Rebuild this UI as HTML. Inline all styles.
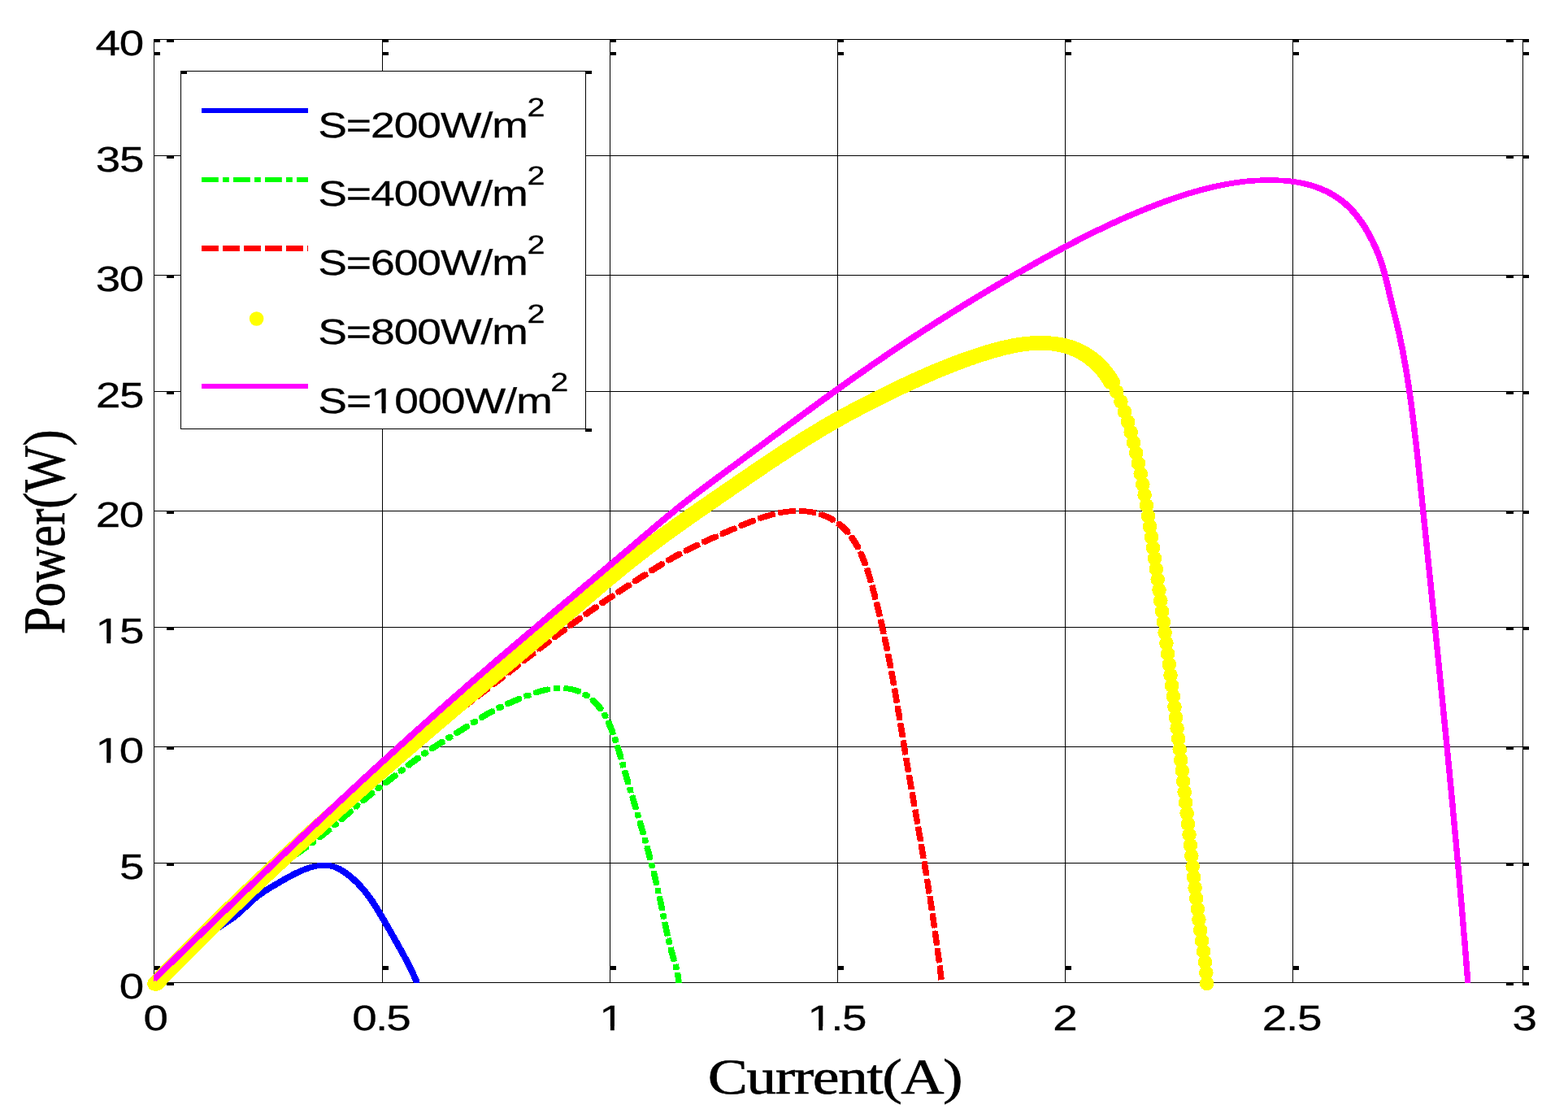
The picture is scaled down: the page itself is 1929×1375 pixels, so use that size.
<!DOCTYPE html>
<html lang="en"><head><meta charset="utf-8"><title>Power-Current curves</title>
<style>html,body{margin:0;padding:0;background:#fff;overflow:hidden}svg{display:block}text{font-kerning:none}.s{font-family:"Liberation Sans",sans-serif;fill:#000;stroke:#000;stroke-width:.3px}.t{font-family:"Liberation Serif",serif;fill:#000;stroke:#000;stroke-width:.6px}.k{fill:#000;shape-rendering:crispEdges}.c{fill:none;stroke-linejoin:round;shape-rendering:crispEdges}</style></head><body>
<svg width="1929" height="1375" viewBox="0 0 1929 1375" text-rendering="geometricPrecision">
<rect width="1929" height="1375" fill="#fff"/>
<g class="k"><rect x="470" y="48" width="1" height="1160"/><rect x="750" y="48" width="1" height="1160"/><rect x="1030" y="48" width="1" height="1160"/><rect x="1310" y="48" width="1" height="1160"/><rect x="1590" y="48" width="1" height="1160"/><rect x="189" y="191" width="1684" height="1"/><rect x="189" y="338" width="1684" height="1"/><rect x="189" y="481" width="1684" height="1"/><rect x="189" y="628" width="1684" height="1"/><rect x="189" y="771" width="1684" height="1"/><rect x="189" y="918" width="1684" height="1"/><rect x="189" y="1061" width="1684" height="1"/><rect x="189" y="48" width="1685" height="1"/><rect x="189" y="1208" width="1685" height="1"/><rect x="189" y="48" width="1" height="1161"/><rect x="1873" y="48" width="1" height="1161"/><rect x="205" y="48" width="9" height="4"/><rect x="1853" y="48" width="9" height="4"/><rect x="1873" y="48" width="8" height="4"/><rect x="205" y="191" width="9" height="4"/><rect x="1853" y="191" width="9" height="4"/><rect x="1873" y="191" width="8" height="4"/><rect x="205" y="338" width="9" height="4"/><rect x="1853" y="338" width="9" height="4"/><rect x="1873" y="338" width="8" height="4"/><rect x="205" y="481" width="9" height="4"/><rect x="1853" y="481" width="9" height="4"/><rect x="1873" y="481" width="8" height="4"/><rect x="205" y="628" width="9" height="4"/><rect x="1853" y="628" width="9" height="4"/><rect x="1873" y="628" width="8" height="4"/><rect x="205" y="771" width="9" height="4"/><rect x="1853" y="771" width="9" height="4"/><rect x="1873" y="771" width="8" height="4"/><rect x="205" y="918" width="9" height="4"/><rect x="1853" y="918" width="9" height="4"/><rect x="1873" y="918" width="8" height="4"/><rect x="205" y="1061" width="9" height="4"/><rect x="1853" y="1061" width="9" height="4"/><rect x="1873" y="1061" width="8" height="4"/><rect x="205" y="1208" width="9" height="4"/><rect x="1853" y="1208" width="9" height="4"/><rect x="1873" y="1208" width="8" height="4"/><rect x="189" y="64" width="8" height="4"/><rect x="1873" y="64" width="8" height="4"/><rect x="189" y="1188" width="8" height="5"/><rect x="1873" y="1188" width="8" height="5"/><rect x="189" y="48" width="8" height="4"/><rect x="470" y="48" width="8" height="4"/><rect x="470" y="64" width="8" height="4"/><rect x="470" y="1188" width="8" height="5"/><rect x="750" y="48" width="8" height="4"/><rect x="750" y="64" width="8" height="4"/><rect x="750" y="1188" width="8" height="5"/><rect x="1030" y="48" width="8" height="4"/><rect x="1030" y="64" width="8" height="4"/><rect x="1030" y="1188" width="8" height="5"/><rect x="1310" y="48" width="8" height="4"/><rect x="1310" y="64" width="8" height="4"/><rect x="1310" y="1188" width="8" height="5"/><rect x="1590" y="48" width="8" height="4"/><rect x="1590" y="64" width="8" height="4"/><rect x="1590" y="1188" width="8" height="5"/></g>
<defs>
<clipPath id="ax"><rect x="189" y="48" width="1685" height="1161"/></clipPath>
<path id="pb" d="M190.5,1207.5 192.1,1205.5 193.7,1203.5 195.3,1201.5 196.9,1199.6 198.6,1197.7 200.2,1195.8 201.9,1193.9 203.7,1192.1 205.4,1190.3 207.2,1188.5 208.9,1186.7 210.7,1185.0 212.5,1183.2 214.4,1181.5 216.2,1179.9 218.1,1178.2 220.0,1176.5 221.9,1174.9 223.8,1173.3 225.7,1171.7 227.6,1170.2 229.6,1168.6 231.5,1167.1 233.5,1165.5 235.5,1164.0 237.5,1162.5 239.5,1161.0 241.5,1159.5 243.5,1158.1 245.6,1156.6 247.6,1155.2 249.7,1153.7 251.7,1152.3 253.8,1150.9 255.8,1149.5 257.9,1148.1 260.0,1146.7 262.1,1145.3 264.2,1143.9 266.3,1142.5 268.3,1141.1 270.4,1139.8 272.5,1138.4 274.6,1137.0 276.7,1135.6 278.8,1134.2 280.9,1132.8 282.9,1131.4 284.9,1129.9 287.0,1128.5 288.9,1126.9 290.9,1125.4 292.8,1123.8 294.7,1122.2 296.6,1120.5 298.4,1118.8 300.2,1117.1 302.1,1115.3 303.9,1113.6 305.7,1111.8 307.5,1110.1 309.4,1108.4 311.3,1106.8 313.2,1105.2 315.1,1103.6 317.1,1102.1 319.1,1100.6 321.1,1099.2 323.2,1097.7 325.2,1096.3 327.3,1095.0 329.4,1093.6 331.5,1092.3 333.7,1091.0 335.8,1089.7 338.0,1088.5 340.1,1087.2 342.3,1086.0 344.4,1084.7 346.6,1083.5 348.7,1082.3 350.9,1081.0 353.1,1079.8 355.3,1078.6 357.5,1077.4 359.7,1076.2 362.0,1075.0 364.2,1073.9 366.5,1072.8 368.8,1071.8 371.1,1070.8 373.4,1069.8 375.7,1068.9 378.1,1068.1 380.4,1067.3 382.8,1066.6 385.3,1066.0 387.7,1065.4 390.2,1065.0 392.7,1064.6 395.2,1064.4 397.7,1064.3 400.2,1064.2 402.7,1064.4 405.2,1064.6 407.6,1065.1 410.0,1065.7 412.3,1066.4 414.5,1067.4 416.8,1068.4 418.9,1069.6 421.0,1070.9 423.1,1072.2 425.2,1073.6 427.2,1075.1 429.2,1076.6 431.1,1078.2 433.0,1079.8 434.9,1081.5 436.8,1083.2 438.6,1084.9 440.4,1086.7 442.1,1088.5 443.8,1090.4 445.5,1092.3 447.2,1094.2 448.8,1096.1 450.3,1098.1 451.9,1100.1 453.4,1102.1 454.9,1104.2 456.3,1106.2 457.8,1108.2 459.2,1110.3 460.5,1112.4 461.9,1114.5 463.2,1116.6 464.5,1118.7 465.8,1120.8 467.1,1123.0 468.3,1125.1 469.6,1127.2 470.9,1129.4 472.1,1131.5 473.3,1133.7 474.6,1135.9 475.8,1138.0 477.1,1140.2 478.3,1142.3 479.6,1144.5 480.8,1146.7 482.1,1148.8 483.3,1151.0 484.6,1153.2 485.8,1155.4 487.0,1157.6 488.3,1159.7 489.5,1161.9 490.7,1164.1 491.9,1166.3 493.2,1168.5 494.4,1170.7 495.6,1172.9 496.8,1175.1 497.9,1177.3 499.1,1179.5 500.3,1181.8 501.4,1184.0 502.6,1186.2 503.7,1188.5 504.8,1190.7 505.9,1192.9 507.0,1195.2 508.1,1197.4 509.1,1199.7 510.2,1202.0 511.2,1204.2 512.2,1206.5 512.8,1207.9"/>
<path id="pg" d="M190.5,1207.5 191.9,1206.1 193.3,1204.7 194.8,1203.3 194.9,1203.1M199.2,1198.9 200.5,1197.7 201.9,1196.3 203.0,1195.2M207.3,1191.0 207.6,1190.7 209.0,1189.3 210.5,1187.9 211.9,1186.5 213.3,1185.1 214.8,1183.7 216.2,1182.3 217.6,1180.9 219.1,1179.5 219.7,1178.9M224.0,1174.7 224.8,1173.9 226.2,1172.5 227.7,1171.2 227.8,1171.0M232.2,1166.8 233.4,1165.6 234.9,1164.2 236.3,1162.8 237.8,1161.4 239.2,1160.0 240.6,1158.7 242.1,1157.3 243.5,1155.9 244.6,1154.8M249.0,1150.6 249.3,1150.3 250.7,1148.9 252.2,1147.5 252.8,1147.0M257.1,1142.8 257.9,1142.0 259.4,1140.6 260.8,1139.2 262.2,1137.8 263.7,1136.4 265.1,1135.0 266.5,1133.6 268.0,1132.3 269.4,1130.9 269.5,1130.8M273.9,1126.5 275.1,1125.3 276.6,1123.9 277.6,1122.9M282.0,1118.6 282.3,1118.3 283.7,1116.9 285.2,1115.5 286.6,1114.1 288.0,1112.7 289.5,1111.3 290.9,1109.9 292.3,1108.5 293.8,1107.1 294.3,1106.6M298.7,1102.4 299.6,1101.6 301.0,1100.2 302.5,1098.9 302.6,1098.8M307.0,1094.6 308.3,1093.4 309.8,1092.1 311.3,1090.7 312.8,1089.4 314.2,1088.1 315.7,1086.7 317.2,1085.4 318.8,1084.1 320.0,1083.0M324.6,1079.1 324.8,1078.9 326.4,1077.6 327.9,1076.4 328.8,1075.7M333.6,1071.9 334.2,1071.4 335.8,1070.2 337.4,1069.0 339.0,1067.8 340.6,1066.6 342.2,1065.4 343.8,1064.2 345.5,1063.1 347.1,1061.9 347.9,1061.4M353.0,1057.9 353.7,1057.4 355.4,1056.3 357.0,1055.2 357.6,1054.8M362.7,1051.3 363.7,1050.7 365.3,1049.6 367.0,1048.5 368.7,1047.4 370.3,1046.3 372.0,1045.1 373.6,1044.0 375.2,1042.9 376.9,1041.7 377.5,1041.3M382.5,1037.7 383.4,1037.0 385.0,1035.9 386.6,1034.7 386.9,1034.5M391.8,1030.7 393.0,1029.8 394.5,1028.6 396.1,1027.4 397.7,1026.1 399.3,1024.9 400.8,1023.6 402.4,1022.4 403.9,1021.1 405.5,1019.9 405.6,1019.8M410.3,1015.9 411.6,1014.7 413.2,1013.5 414.4,1012.4M419.0,1008.5 419.2,1008.3 420.8,1006.9 422.3,1005.6 423.8,1004.3 425.3,1003.0 426.8,1001.7 428.3,1000.4 429.8,999.1 431.3,997.8 432.2,997.0M436.8,993.0 437.4,992.5 438.9,991.2 440.4,989.9 440.8,989.5M445.5,985.6 446.5,984.7 448.0,983.4 449.6,982.2 451.1,980.9 452.6,979.6 454.2,978.4 455.8,977.1 457.3,975.9 458.9,974.6 459.1,974.5M464.0,970.7 465.2,969.7 466.8,968.5 468.3,967.4M473.2,963.7 473.2,963.7 474.8,962.5 476.4,961.3 478.0,960.1 479.6,958.8 481.1,957.6 482.7,956.4 484.3,955.2 485.9,953.9 487.2,952.9M492.0,949.1 492.2,949.0 493.8,947.8 495.3,946.6 496.3,945.8M501.2,942.1 501.7,941.7 503.3,940.5 504.9,939.2 506.5,938.0 508.1,936.8 509.7,935.7 511.3,934.5 512.9,933.3 514.5,932.1 515.4,931.5M520.5,927.9 521.1,927.5 522.7,926.4 524.4,925.3 525.0,924.9M530.2,921.4 531.0,920.8 532.7,919.7 534.4,918.6 536.0,917.6 537.7,916.5 539.4,915.4 541.1,914.3 542.8,913.3 544.5,912.2 545.2,911.7M550.6,908.4 551.3,907.9 553.0,906.9 554.7,905.8 555.2,905.5M560.6,902.2 561.5,901.6 563.2,900.6 564.9,899.5 566.6,898.5 568.3,897.4 570.0,896.4 571.7,895.3 573.4,894.2 575.1,893.2 575.8,892.7M581.1,889.4 581.8,888.9 583.5,887.9 585.2,886.8 585.8,886.4M591.1,883.1 592.0,882.6 593.7,881.6 595.5,880.5 597.2,879.5 598.9,878.5 600.6,877.5 602.4,876.5 604.1,875.6 605.9,874.6 606.8,874.2M612.5,871.2 613.0,871.0 614.8,870.1 616.6,869.2 617.5,868.8M623.4,866.1 623.9,865.9 625.7,865.1 627.5,864.3 629.4,863.5 631.2,862.7 633.1,861.9 634.9,861.1 636.8,860.4 638.6,859.6 640.2,859.0M646.4,856.5 647.9,855.9 649.8,855.2 651.5,854.6M657.9,852.3 659.2,851.9 661.1,851.3 663.0,850.7 664.9,850.1 666.9,849.6 668.8,849.1 670.7,848.6 672.7,848.2 674.7,847.8 675.6,847.7M682.9,846.7 684.6,846.6 686.6,846.4 687.7,846.4M695.1,846.5 696.6,846.7 698.5,846.9 700.5,847.2 702.5,847.5 704.4,848.0 706.4,848.4 708.3,849.0 710.2,849.7 712.1,850.4 712.8,850.7M718.7,853.6 719.2,853.9 720.9,855.0 722.6,856.1 723.4,856.6M728.2,860.4 728.9,861.0 730.4,862.3 731.8,863.7 733.2,865.2 734.6,866.6 735.9,868.1 737.2,869.7 738.4,871.3 739.6,872.9 739.7,873.0M743.0,877.9 744.0,879.5 745.0,881.3 745.4,882.1M748.1,887.5 748.6,888.4 749.4,890.2 750.2,892.1 751.0,893.9 751.7,895.8 752.5,897.6 753.2,899.5 753.9,901.4 754.2,902.2M756.2,907.8 756.6,908.9 757.2,910.8 757.7,912.1M759.5,917.8 759.7,918.4 760.3,920.3 760.9,922.2 761.5,924.1 762.1,926.0 762.7,927.9 763.2,929.9 763.8,931.8 764.1,932.8M765.8,938.6 766.1,939.5 766.6,941.4 767.0,942.9M768.7,948.7 768.8,949.1 769.4,951.0 769.9,952.9 770.5,954.8 771.0,956.8 771.6,958.7 772.2,960.6 772.7,962.5 773.1,963.7M774.8,969.5 775.0,970.2 775.6,972.1 776.1,973.8M777.8,979.6 777.9,979.8 778.5,981.7 779.0,983.6 779.6,985.5 780.2,987.4 780.8,989.3 781.3,991.3 781.9,993.2 782.3,994.6M784.1,1000.4 784.2,1000.8 784.8,1002.7 785.4,1004.7M787.1,1010.5 787.6,1012.3 788.2,1014.3 788.7,1016.2 789.3,1018.1 789.9,1020.0 790.4,1021.9 791.0,1023.9 791.4,1025.4M793.1,1031.3 793.1,1031.6 793.7,1033.5 794.2,1035.4 794.3,1035.6M795.9,1041.4 796.4,1043.1 796.9,1045.0 797.4,1047.0 797.9,1048.9 798.5,1050.8 799.0,1052.8 799.5,1054.7 799.9,1056.4M801.5,1062.3 801.5,1062.4 802.0,1064.4 802.5,1066.3 802.6,1066.6M804.1,1072.5 804.5,1074.1 804.9,1076.0 805.4,1078.0 805.9,1079.9 806.4,1081.8 806.8,1083.8 807.3,1085.7 807.7,1087.5M809.1,1093.5 809.1,1093.5 809.6,1095.5 810.0,1097.4 810.1,1097.8M811.4,1103.7 811.7,1105.2 812.2,1107.2 812.6,1109.1 813.0,1111.1 813.4,1113.1 813.8,1115.0 814.2,1117.0 814.6,1118.8M815.8,1124.8 815.8,1124.8 816.2,1126.8 816.6,1128.7 816.7,1129.1M817.9,1135.0 818.2,1136.6 818.7,1138.5 819.1,1140.5 819.5,1142.4 819.9,1144.4 820.3,1146.3 820.8,1148.3 821.2,1150.1M822.5,1156.1 822.6,1156.1 823.0,1158.0 823.5,1160.0 823.6,1160.4M825.1,1166.2 825.5,1167.7 826.0,1169.7 826.5,1171.6 827.1,1173.5 827.6,1175.4 828.2,1177.4 828.7,1179.3 829.3,1181.2 829.3,1181.2M831.0,1187.1 831.5,1188.9 832.0,1190.8 832.1,1191.4M833.4,1197.3 833.7,1198.6 834.1,1200.6 834.4,1202.6 834.6,1204.6 834.9,1206.6 835.0,1207.9"/>
<path id="pr" d="M190.5,1207.5 191.9,1206.1 192.8,1205.3M197.1,1201.2 197.7,1200.6 199.2,1199.2 200.6,1197.8 202.0,1196.4 203.5,1195.0 204.9,1193.6 206.3,1192.2 207.8,1190.8 209.2,1189.5 209.6,1189.0M213.9,1184.9 214.9,1183.9 216.4,1182.5 217.8,1181.1 219.2,1179.7 220.6,1178.3 222.1,1176.9 223.5,1175.5 224.9,1174.1 226.3,1172.7M230.6,1168.5 230.6,1168.4 232.0,1167.0 233.5,1165.6 234.9,1164.2 236.3,1162.8 237.7,1161.4 239.2,1160.0 240.6,1158.6 242.0,1157.2 243.0,1156.2M247.2,1152.1 247.7,1151.6 249.1,1150.2 250.6,1148.8 252.0,1147.4 253.4,1146.0 254.8,1144.6 256.3,1143.2 257.7,1141.8 259.1,1140.4 259.7,1139.8M263.9,1135.7 264.9,1134.8 266.3,1133.4 267.7,1132.0 269.2,1130.6 270.6,1129.2 272.0,1127.8 273.5,1126.4 274.9,1125.1 276.4,1123.7 276.5,1123.5M280.8,1119.4 282.1,1118.1 283.6,1116.8 285.0,1115.4 286.5,1114.0 287.9,1112.6 289.4,1111.3 290.8,1109.9 292.3,1108.5 293.5,1107.4M297.9,1103.3 298.1,1103.0 299.6,1101.7 301.1,1100.3 302.5,1098.9 304.0,1097.6 305.5,1096.2 306.9,1094.9 308.4,1093.5 309.9,1092.1 310.7,1091.3M315.1,1087.3 315.7,1086.7 317.2,1085.4 318.7,1084.0 320.2,1082.7 321.6,1081.3 323.1,1080.0 324.6,1078.6 326.1,1077.3 327.5,1075.9 328.1,1075.4M332.5,1071.4 333.5,1070.5 334.9,1069.2 336.4,1067.8 337.9,1066.5 339.4,1065.1 340.9,1063.8 342.3,1062.5 343.8,1061.1 345.3,1059.8 345.5,1059.6M349.9,1055.6 351.2,1054.4 352.7,1053.1 354.2,1051.7 355.7,1050.4 357.2,1049.1 358.7,1047.7 360.1,1046.4 361.6,1045.0 363.0,1043.8M367.5,1039.8 367.6,1039.7 369.1,1038.3 370.5,1037.0 372.0,1035.7 373.5,1034.3 375.0,1033.0 376.5,1031.6 378.0,1030.3 379.5,1029.0 380.5,1028.0M385.0,1024.0 385.4,1023.6 386.9,1022.3 388.4,1020.9 389.8,1019.6 391.3,1018.2 392.8,1016.9 394.3,1015.6 395.8,1014.2 397.3,1012.9 398.0,1012.2M402.5,1008.2 403.2,1007.5 404.7,1006.2 406.2,1004.8 407.7,1003.5 409.1,1002.2 410.6,1000.8 412.1,999.5 413.6,998.1 415.1,996.8 415.5,996.4M420.0,992.4 421.1,991.5 422.6,990.1 424.0,988.8 425.5,987.5 427.0,986.2 428.5,984.8 430.0,983.5 431.5,982.2 433.0,980.8 433.2,980.7M437.7,976.8 439.0,975.6 440.5,974.2 442.0,972.9 443.5,971.6 445.0,970.3 446.5,969.0 448.0,967.7 449.6,966.3 451.0,965.1M455.5,961.2 455.6,961.1 457.1,959.8 458.6,958.5 460.2,957.2 461.7,955.9 463.2,954.6 464.7,953.3 466.3,952.0 467.8,950.7 469.0,949.7M473.6,945.9 473.9,945.6 475.4,944.3 477.0,943.0 478.5,941.7 480.1,940.5 481.6,939.2 483.1,937.9 484.7,936.6 486.2,935.4 487.2,934.6M491.9,930.8 492.4,930.3 494.0,929.1 495.5,927.8 497.1,926.5 498.7,925.3 500.2,924.0 501.8,922.8 503.3,921.5 504.9,920.3 505.8,919.6M510.5,915.8 511.2,915.3 512.7,914.1 514.3,912.8 515.9,911.6 517.4,910.3 519.0,909.1 520.6,907.9 522.1,906.6 523.7,905.4 524.5,904.8M529.2,901.1 530.0,900.5 531.6,899.2 533.2,898.0 534.8,896.8 536.3,895.6 537.9,894.3 539.5,893.1 541.1,891.9 542.7,890.7 543.3,890.1M548.1,886.4 549.0,885.8 550.6,884.6 552.2,883.3 553.8,882.1 555.3,880.9 556.9,879.7 558.5,878.5 560.1,877.2 561.7,876.0 562.3,875.6M567.1,871.9 568.0,871.2 569.6,869.9 571.2,868.7 572.8,867.5 574.4,866.3 576.0,865.1 577.6,863.9 579.2,862.7 580.7,861.4 581.3,861.0M586.1,857.3 587.1,856.6 588.7,855.4 590.3,854.2 591.9,852.9 593.5,851.7 595.0,850.5 596.6,849.3 598.2,848.1 599.8,846.9 600.3,846.5M605.1,842.8 606.2,842.0 607.7,840.8 609.3,839.6 610.9,838.3 612.5,837.1 614.1,835.9 615.7,834.7 617.2,833.4 618.8,832.2 619.3,831.9M624.1,828.2 625.2,827.3 626.7,826.1 628.3,824.9 629.9,823.7 631.5,822.4 633.1,821.2 634.6,820.0 636.2,818.8 637.8,817.5 638.2,817.2M642.9,813.5 644.1,812.6 645.7,811.4 647.3,810.2 648.9,809.0 650.4,807.7 652.0,806.5 653.6,805.3 655.2,804.1 656.8,802.8 657.1,802.6M661.9,798.9 663.1,798.0 664.7,796.8 666.3,795.5 667.9,794.3 669.5,793.1 671.1,791.9 672.7,790.7 674.3,789.5 675.9,788.3 676.1,788.1M680.9,784.4 682.2,783.5 683.8,782.3 685.4,781.1 687.0,779.9 688.6,778.7 690.3,777.5 691.9,776.3 693.5,775.1 695.1,773.9 695.3,773.7M700.2,770.2 701.5,769.2 703.2,768.0 704.8,766.8 706.4,765.7 708.0,764.5 709.6,763.3 711.3,762.2 712.9,761.0 714.5,759.8 714.8,759.7M719.8,756.1 721.1,755.2 722.7,754.1 724.3,752.9 726.0,751.8 727.6,750.6 729.3,749.5 730.9,748.4 732.5,747.2 734.2,746.1 734.6,745.8M739.6,742.4 740.8,741.6 742.4,740.4 744.1,739.3 745.8,738.2 747.4,737.1 749.1,736.0 750.7,734.8 752.4,733.7 754.0,732.6 754.6,732.3M759.7,728.9 760.7,728.2 762.4,727.1 764.0,726.0 765.7,724.9 767.4,723.8 769.1,722.7 770.7,721.6 772.4,720.5 774.1,719.4 774.8,718.9M780.0,715.6 780.8,715.0 782.5,714.0 784.2,712.9 785.8,711.8 787.5,710.7 789.2,709.6 790.9,708.6 792.6,707.5 794.3,706.4 795.2,705.8M800.4,702.5 801.0,702.1 802.7,701.1 804.4,700.0 806.1,698.9 807.8,697.9 809.5,696.8 811.2,695.8 812.9,694.7 814.6,693.7 815.9,692.9M821.2,689.8 821.5,689.6 823.2,688.6 825.0,687.6 826.7,686.6 828.4,685.6 830.2,684.6 831.9,683.6 833.7,682.7 835.4,681.7 837.2,680.8M842.7,677.8 844.3,677.1 846.1,676.2 847.8,675.3 849.6,674.4 851.4,673.5 853.2,672.6 855.0,671.7 856.8,670.8 858.6,670.0 859.2,669.7M865.0,667.0 865.9,666.6 867.7,665.7 869.5,664.9 871.3,664.1 873.1,663.3 875.0,662.4 876.8,661.6 878.6,660.8 880.4,660.0 881.8,659.4M887.7,656.8 887.8,656.8 889.6,656.0 891.4,655.2 893.3,654.4 895.1,653.6 896.9,652.8 898.8,652.0 900.6,651.2 902.4,650.4 904.3,649.6 904.7,649.4M910.7,646.9 911.6,646.5 913.5,645.7 915.3,645.0 917.2,644.2 919.0,643.5 920.9,642.7 922.8,642.0 924.6,641.3 926.5,640.5 927.9,640.0M934.1,637.8 935.9,637.1 937.8,636.5 939.7,635.9 941.6,635.3 943.5,634.7 945.4,634.1 947.4,633.6 949.3,633.0 951.2,632.5 951.9,632.4M958.7,630.8 959.0,630.7 961.0,630.4 962.9,630.0 964.9,629.7 966.9,629.4 968.9,629.1 970.9,628.9 972.9,628.7 974.9,628.6 976.9,628.5 977.0,628.5M984.3,628.4 984.8,628.4 986.8,628.5 988.8,628.6 990.8,628.8 992.8,629.0 994.8,629.2 996.8,629.5 998.8,629.9 1000.7,630.3 1002.5,630.7M1009.1,632.5 1010.4,632.9 1012.3,633.5 1014.1,634.2 1016.0,635.0 1017.8,635.8 1019.6,636.6 1021.4,637.5 1023.2,638.5 1024.9,639.5 1025.9,640.1M1031.0,643.5 1031.6,643.9 1033.1,645.1 1034.7,646.4 1036.2,647.7 1037.7,649.1 1039.1,650.5 1040.5,651.9 1041.9,653.3 1043.2,654.9 1043.8,655.5M1047.4,660.2 1048.1,661.2 1049.2,662.8 1050.3,664.5 1051.4,666.2 1052.4,667.9 1053.4,669.6 1054.4,671.4 1055.4,673.1 1056.0,674.3M1058.5,679.6 1058.9,680.3 1059.7,682.1 1060.5,684.0 1061.3,685.8 1062.0,687.7 1062.8,689.5 1063.5,691.4 1064.2,693.3 1064.7,694.5M1066.6,700.1 1066.9,700.8 1067.5,702.7 1068.1,704.6 1068.7,706.5 1069.3,708.4 1069.9,710.3 1070.5,712.2 1071.0,714.2 1071.4,715.2M1073.0,720.9 1073.2,721.9 1073.7,723.8 1074.3,725.7 1074.8,727.7 1075.3,729.6 1075.8,731.5 1076.3,733.5 1076.8,735.4 1077.0,736.2M1078.5,741.9 1078.8,743.1 1079.2,745.1 1079.7,747.0 1080.2,749.0 1080.7,750.9 1081.1,752.9 1081.6,754.8 1082.1,756.7 1082.2,757.2M1083.6,763.0 1083.9,764.5 1084.4,766.5 1084.8,768.4 1085.3,770.4 1085.7,772.3 1086.1,774.3 1086.6,776.2 1087.0,778.2 1087.0,778.3M1088.3,784.2 1088.7,786.0 1089.1,788.0 1089.5,789.9 1089.9,791.9 1090.4,793.8 1090.8,795.8 1091.2,797.8 1091.5,799.5M1092.7,805.4 1092.7,805.6 1093.1,807.6 1093.5,809.5 1093.9,811.5 1094.3,813.4 1094.7,815.4 1095.0,817.4 1095.4,819.3 1095.7,820.7M1096.8,826.6 1096.9,827.2 1097.3,829.2 1097.6,831.1 1098.0,833.1 1098.3,835.1 1098.7,837.0 1099.0,839.0 1099.4,841.0 1099.6,841.9M1100.6,847.9 1100.8,848.9 1101.1,850.8 1101.5,852.8 1101.8,854.8 1102.2,856.7 1102.5,858.7 1102.8,860.7 1103.2,862.6 1103.3,863.2M1104.3,869.2 1104.5,870.5 1104.8,872.5 1105.2,874.5 1105.5,876.5 1105.8,878.4 1106.2,880.4 1106.5,882.4 1106.8,884.3 1106.8,884.5M1107.8,890.5 1108.1,892.2 1108.5,894.2 1108.8,896.2 1109.1,898.2 1109.4,900.1 1109.8,902.1 1110.1,904.1 1110.4,905.8M1111.3,911.7 1111.4,912.0 1111.7,913.9 1112.0,915.9 1112.4,917.9 1112.7,919.9 1113.0,921.8 1113.3,923.8 1113.7,925.8 1113.9,927.1M1114.9,933.0 1115.0,933.7 1115.3,935.6 1115.7,937.6 1116.0,939.6 1116.3,941.6 1116.7,943.5 1117.0,945.5 1117.3,947.5 1117.5,948.4M1118.5,954.3 1118.7,955.4 1119.0,957.3 1119.4,959.3 1119.7,961.3 1120.1,963.2 1120.4,965.2 1120.7,967.2 1121.1,969.1 1121.2,969.7M1122.2,975.6 1122.5,977.0 1122.8,979.0 1123.2,981.0 1123.5,982.9 1123.9,984.9 1124.2,986.9 1124.6,988.8 1124.9,990.8 1124.9,990.9M1126.0,996.9 1126.3,998.7 1126.6,1000.7 1127.0,1002.6 1127.3,1004.6 1127.7,1006.6 1128.0,1008.5 1128.4,1010.5 1128.7,1012.2M1129.7,1018.1 1129.8,1018.4 1130.1,1020.4 1130.5,1022.3 1130.8,1024.3 1131.1,1026.3 1131.5,1028.2 1131.8,1030.2 1132.2,1032.2 1132.4,1033.5M1133.4,1039.4 1133.5,1040.1 1133.9,1042.0 1134.2,1044.0 1134.6,1046.0 1134.9,1047.9 1135.2,1049.9 1135.6,1051.9 1135.9,1053.9 1136.1,1054.8M1137.1,1060.7 1137.3,1061.7 1137.6,1063.7 1137.9,1065.7 1138.2,1067.7 1138.6,1069.6 1138.9,1071.6 1139.2,1073.6 1139.6,1075.6 1139.6,1076.1M1140.6,1082.0 1140.8,1083.5 1141.2,1085.4 1141.5,1087.4 1141.8,1089.4 1142.1,1091.4 1142.4,1093.3 1142.7,1095.3 1143.0,1097.3 1143.1,1097.4M1144.0,1103.3 1144.3,1105.2 1144.6,1107.2 1144.9,1109.1 1145.2,1111.1 1145.5,1113.1 1145.8,1115.1 1146.1,1117.0 1146.4,1118.7M1147.2,1124.7 1147.3,1125.0 1147.6,1126.9 1147.9,1128.9 1148.2,1130.9 1148.5,1132.9 1148.7,1134.8 1149.0,1136.8 1149.3,1138.8 1149.5,1140.0M1150.4,1146.0 1150.5,1146.7 1150.7,1148.7 1151.0,1150.7 1151.3,1152.7 1151.6,1154.6 1151.8,1156.6 1152.1,1158.6 1152.4,1160.6 1152.5,1161.4M1153.3,1167.4 1153.5,1168.5 1153.7,1170.5 1154.0,1172.5 1154.3,1174.5 1154.5,1176.4 1154.8,1178.4 1155.0,1180.4 1155.3,1182.4 1155.4,1182.7M1156.1,1188.8 1156.3,1190.3 1156.6,1192.3 1156.8,1194.3 1157.1,1196.3 1157.3,1198.3 1157.6,1200.3 1157.8,1202.2 1158.0,1204.1"/>
<path id="pm" d="M189.6,1204.2 191.4,1202.4 193.2,1200.7 195.0,1198.9 196.8,1197.2 198.5,1195.5 200.3,1193.7 202.1,1192.0 203.9,1190.2 205.7,1188.5 207.5,1186.8 209.3,1185.0 211.1,1183.3 212.9,1181.5 214.7,1179.8 216.5,1178.0 218.3,1176.3 220.1,1174.6 221.8,1172.8 223.6,1171.1 225.4,1169.3 227.2,1167.6 229.0,1165.9 230.8,1164.1 232.6,1162.4 234.4,1160.6 236.2,1158.9 238.0,1157.2 239.8,1155.4 241.6,1153.7 243.4,1151.9 245.2,1150.2 247.0,1148.5 248.8,1146.7 250.6,1145.0 252.4,1143.2 254.2,1141.5 255.9,1139.8 257.7,1138.0 259.5,1136.3 261.3,1134.5 263.1,1132.8 264.9,1131.1 266.7,1129.3 268.5,1127.6 270.3,1125.8 272.1,1124.1 273.9,1122.4 275.7,1120.6 277.5,1118.9 279.3,1117.2 281.1,1115.4 282.9,1113.7 284.7,1112.0 286.5,1110.2 288.3,1108.5 290.1,1106.8 291.9,1105.0 293.7,1103.3 295.5,1101.6 297.3,1099.8 299.1,1098.1 300.9,1096.4 302.7,1094.6 304.5,1092.9 306.3,1091.2 308.1,1089.4 309.9,1087.7 311.7,1086.0 313.6,1084.2 315.4,1082.5 317.2,1080.8 319.0,1079.0 320.8,1077.3 322.6,1075.6 324.4,1073.8 326.2,1072.1 328.0,1070.4 329.8,1068.7 331.6,1066.9 333.4,1065.2 335.2,1063.5 337.0,1061.8 338.9,1060.0 340.7,1058.3 342.5,1056.6 344.3,1054.9 346.1,1053.1 347.9,1051.4 349.7,1049.7 351.5,1048.0 353.3,1046.2 355.2,1044.5 357.0,1042.8 358.8,1041.1 360.6,1039.3 362.4,1037.6 364.2,1035.9 366.0,1034.2 367.9,1032.5 369.7,1030.7 371.5,1029.0 373.3,1027.3 375.1,1025.6 376.9,1023.9 378.8,1022.2 380.6,1020.4 382.4,1018.7 384.2,1017.0 386.0,1015.3 387.8,1013.6 389.7,1011.9 391.5,1010.2 393.3,1008.4 395.1,1006.7 397.0,1005.0 398.8,1003.3 400.6,1001.6 402.4,999.9 404.3,998.2 406.1,996.5 407.9,994.8 409.7,993.1 411.6,991.3 413.4,989.6 415.2,987.9 417.0,986.2 418.9,984.5 420.7,982.8 422.5,981.1 424.4,979.4 426.2,977.7 428.0,976.0 429.9,974.3 431.7,972.6 433.5,970.9 435.4,969.2 437.2,967.5 439.0,965.8 440.9,964.1 442.7,962.4 444.5,960.7 446.4,959.0 448.2,957.3 450.0,955.6 451.9,953.9 453.7,952.2 455.6,950.5 457.4,948.9 459.2,947.2 461.1,945.5 462.9,943.8 464.8,942.1 466.6,940.4 468.5,938.7 470.3,937.0 472.1,935.3 474.0,933.7 475.8,932.0 477.7,930.3 479.5,928.6 481.4,926.9 483.2,925.2 485.1,923.6 486.9,921.9 488.8,920.2 490.6,918.5 492.5,916.8 494.3,915.2 496.2,913.5 498.1,911.8 499.9,910.1 501.8,908.5 503.6,906.8 505.5,905.1 507.3,903.4 509.2,901.8 511.1,900.1 512.9,898.4 514.8,896.8 516.6,895.1 518.5,893.4 520.4,891.8 522.2,890.1 524.1,888.4 526.0,886.8 527.8,885.1 529.7,883.4 531.6,881.8 533.4,880.1 535.3,878.4 537.2,876.8 539.0,875.1 540.9,873.5 542.8,871.8 544.6,870.2 546.5,868.5 548.4,866.8 550.3,865.2 552.1,863.5 554.0,861.9 555.9,860.2 557.8,858.6 559.7,856.9 561.5,855.3 563.4,853.6 565.3,852.0 567.2,850.4 569.1,848.7 570.9,847.1 572.8,845.4 574.7,843.8 576.6,842.1 578.5,840.5 580.4,838.9 582.3,837.2 584.2,835.6 586.1,834.0 587.9,832.3 589.8,830.7 591.7,829.1 593.6,827.4 595.5,825.8 597.4,824.2 599.3,822.5 601.2,820.9 603.1,819.3 605.0,817.6 606.9,816.0 608.8,814.4 610.7,812.8 612.6,811.1 614.5,809.5 616.4,807.9 618.3,806.3 620.2,804.7 622.1,803.0 624.0,801.4 625.9,799.8 627.8,798.2 629.7,796.6 631.6,794.9 633.5,793.3 635.4,791.7 637.3,790.1 639.3,788.5 641.2,786.8 643.1,785.2 645.0,783.6 646.9,782.0 648.8,780.4 650.7,778.8 652.6,777.2 654.5,775.6 656.4,773.9 658.4,772.3 660.3,770.7 662.2,769.1 664.1,767.5 666.0,765.9 667.9,764.3 669.8,762.7 671.7,761.1 673.7,759.4 675.6,757.8 677.5,756.2 679.4,754.6 681.3,753.0 683.2,751.4 685.1,749.8 687.1,748.2 689.0,746.6 690.9,745.0 692.8,743.4 694.7,741.7 696.6,740.1 698.5,738.5 700.5,736.9 702.4,735.3 704.3,733.7 706.2,732.1 708.1,730.5 710.0,728.9 712.0,727.3 713.9,725.7 715.8,724.1 717.7,722.5 719.6,720.8 721.5,719.2 723.4,717.6 725.4,716.0 727.3,714.4 729.2,712.8 731.1,711.2 733.0,709.6 734.9,708.0 736.8,706.4 738.8,704.8 740.7,703.1 742.6,701.5 744.5,699.9 746.4,698.3 748.3,696.7 750.2,695.1 752.1,693.5 754.1,691.9 756.0,690.3 757.9,688.6 759.8,687.0 761.7,685.4 763.6,683.8 765.5,682.2 767.4,680.6 769.3,679.0 771.3,677.3 773.2,675.7 775.1,674.1 777.0,672.5 778.9,670.9 780.8,669.3 782.7,667.6 784.6,666.0 786.5,664.4 788.4,662.8 790.3,661.2 792.2,659.5 794.1,657.9 796.0,656.3 797.9,654.7 799.9,653.1 801.8,651.5 803.7,649.9 805.6,648.2 807.5,646.6 809.4,645.0 811.3,643.4 813.2,641.8 815.2,640.2 817.1,638.6 819.0,637.0 820.9,635.4 822.9,633.8 824.8,632.2 826.7,630.7 828.7,629.1 830.6,627.5 832.6,625.9 834.5,624.4 836.4,622.8 838.4,621.2 840.4,619.7 842.3,618.1 844.3,616.6 846.2,615.1 848.2,613.5 850.2,612.0 852.2,610.5 854.2,608.9 856.1,607.4 858.1,605.9 860.1,604.4 862.1,602.9 864.1,601.4 866.1,599.9 868.1,598.4 870.1,596.9 872.1,595.4 874.1,593.9 876.1,592.4 878.1,590.9 880.1,589.4 882.1,587.9 884.1,586.4 886.2,585.0 888.2,583.5 890.2,582.0 892.2,580.5 894.2,579.0 896.2,577.5 898.2,576.0 900.2,574.6 902.3,573.1 904.3,571.6 906.3,570.1 908.3,568.6 910.3,567.1 912.3,565.6 914.3,564.2 916.3,562.7 918.3,561.2 920.3,559.7 922.4,558.2 924.4,556.7 926.4,555.2 928.4,553.7 930.4,552.2 932.4,550.7 934.4,549.3 936.4,547.8 938.4,546.3 940.4,544.8 942.4,543.3 944.4,541.8 946.5,540.3 948.5,538.8 950.5,537.3 952.5,535.8 954.5,534.3 956.5,532.9 958.5,531.4 960.5,529.9 962.5,528.4 964.5,526.9 966.5,525.4 968.6,523.9 970.6,522.4 972.6,521.0 974.6,519.5 976.6,518.0 978.6,516.5 980.6,515.0 982.6,513.5 984.7,512.1 986.7,510.6 988.7,509.1 990.7,507.6 992.7,506.1 994.7,504.7 996.7,503.2 998.8,501.7 1000.8,500.2 1002.8,498.8 1004.8,497.3 1006.8,495.8 1008.9,494.3 1010.9,492.9 1012.9,491.4 1014.9,489.9 1017.0,488.5 1019.0,487.0 1021.0,485.5 1023.0,484.1 1025.1,482.6 1027.1,481.1 1029.1,479.7 1031.2,478.2 1033.2,476.8 1035.2,475.3 1037.3,473.9 1039.3,472.4 1041.3,471.0 1043.4,469.5 1045.4,468.1 1047.5,466.6 1049.5,465.2 1051.5,463.7 1053.6,462.3 1055.6,460.9 1057.7,459.4 1059.7,458.0 1061.8,456.6 1063.8,455.1 1065.9,453.7 1067.9,452.3 1070.0,450.9 1072.0,449.4 1074.1,448.0 1076.2,446.6 1078.2,445.2 1080.3,443.8 1082.3,442.4 1084.4,441.0 1086.5,439.6 1088.5,438.1 1090.6,436.7 1092.7,435.3 1094.7,433.9 1096.8,432.5 1098.9,431.1 1101.0,429.8 1103.0,428.4 1105.1,427.0 1107.2,425.6 1109.3,424.2 1111.4,422.8 1113.5,421.4 1115.5,420.1 1117.6,418.7 1119.7,417.3 1121.8,415.9 1123.9,414.6 1126.0,413.2 1128.1,411.8 1130.2,410.5 1132.3,409.1 1134.4,407.7 1136.5,406.4 1138.6,405.0 1140.7,403.7 1142.8,402.3 1144.9,401.0 1147.0,399.6 1149.1,398.3 1151.2,396.9 1153.3,395.6 1155.4,394.3 1157.5,392.9 1159.6,391.6 1161.8,390.3 1163.9,388.9 1166.0,387.6 1168.1,386.3 1170.2,384.9 1172.4,383.6 1174.5,382.3 1176.6,381.0 1178.7,379.7 1180.9,378.3 1183.0,377.0 1185.1,375.7 1187.2,374.4 1189.4,373.1 1191.5,371.8 1193.6,370.5 1195.8,369.2 1197.9,367.9 1200.0,366.6 1202.2,365.3 1204.3,364.0 1206.5,362.7 1208.6,361.4 1210.8,360.2 1212.9,358.9 1215.1,357.6 1217.2,356.3 1219.4,355.0 1221.5,353.8 1223.7,352.5 1225.8,351.2 1228.0,349.9 1230.1,348.7 1232.3,347.4 1234.4,346.2 1236.6,344.9 1238.8,343.6 1240.9,342.4 1243.1,341.1 1245.2,339.9 1247.4,338.6 1249.6,337.4 1251.7,336.1 1253.9,334.9 1256.1,333.6 1258.3,332.4 1260.4,331.2 1262.6,329.9 1264.8,328.7 1267.0,327.5 1269.1,326.2 1271.3,325.0 1273.5,323.8 1275.7,322.6 1277.9,321.3 1280.1,320.1 1282.2,318.9 1284.4,317.7 1286.6,316.5 1288.8,315.3 1291.0,314.1 1293.2,312.9 1295.4,311.7 1297.6,310.5 1299.8,309.3 1302.0,308.1 1304.2,306.9 1306.4,305.8 1308.6,304.6 1310.8,303.4 1313.0,302.2 1315.2,301.1 1317.4,299.9 1319.7,298.8 1321.9,297.6 1324.1,296.5 1326.3,295.3 1328.5,294.2 1330.8,293.0 1333.0,291.9 1335.2,290.8 1337.5,289.7 1339.7,288.6 1341.9,287.4 1344.2,286.3 1346.4,285.2 1348.7,284.1 1350.9,283.0 1353.2,282.0 1355.4,280.9 1357.7,279.8 1359.9,278.7 1362.2,277.7 1364.4,276.6 1366.7,275.5 1369.0,274.5 1371.2,273.4 1373.5,272.4 1375.8,271.4 1378.1,270.3 1380.3,269.3 1382.6,268.3 1384.9,267.3 1387.2,266.3 1389.5,265.3 1391.8,264.3 1394.1,263.3 1396.4,262.4 1398.7,261.4 1401.0,260.4 1403.3,259.5 1405.6,258.5 1407.9,257.6 1410.3,256.6 1412.6,255.7 1414.9,254.8 1417.2,253.9 1419.6,253.0 1421.9,252.1 1424.2,251.2 1426.6,250.3 1428.9,249.4 1431.3,248.6 1433.6,247.7 1436.0,246.8 1438.4,246.0 1440.7,245.2 1443.1,244.3 1445.5,243.5 1447.8,242.7 1450.2,241.9 1452.6,241.1 1455.0,240.4 1457.4,239.6 1459.7,238.8 1462.1,238.1 1464.5,237.4 1466.9,236.7 1469.3,235.9 1471.7,235.3 1474.1,234.6 1476.6,233.9 1479.0,233.3 1481.4,232.6 1483.8,232.0 1486.2,231.4 1488.7,230.8 1491.1,230.2 1493.5,229.7 1496.0,229.1 1498.4,228.6 1500.8,228.1 1503.3,227.6 1505.7,227.1 1508.2,226.6 1510.6,226.2 1513.1,225.8 1515.6,225.4 1518.0,225.0 1520.5,224.6 1523.0,224.3 1525.4,223.9 1527.9,223.6 1530.4,223.3 1532.8,223.0 1535.3,222.8 1537.8,222.6 1540.3,222.4 1542.8,222.2 1545.3,222.0 1547.8,221.9 1550.3,221.8 1552.8,221.7 1555.3,221.6 1557.8,221.5 1560.3,221.5 1562.8,221.5 1565.3,221.5 1567.8,221.6 1570.3,221.7 1572.8,221.8 1575.4,221.9 1577.9,222.1 1580.4,222.2 1582.9,222.5 1585.4,222.7 1587.9,223.0 1590.4,223.3 1592.9,223.7 1595.4,224.1 1597.8,224.5 1600.3,225.0 1602.7,225.5 1605.2,226.0 1607.6,226.6 1610.0,227.2 1612.5,227.9 1614.8,228.6 1617.2,229.4 1619.6,230.2 1621.9,231.1 1624.3,232.0 1626.6,232.9 1628.8,233.9 1631.1,235.0 1633.3,236.1 1635.5,237.2 1637.7,238.4 1639.9,239.7 1642.0,240.9 1644.1,242.3 1646.1,243.7 1648.2,245.1 1650.1,246.6 1652.1,248.1 1654.0,249.7 1655.9,251.3 1657.7,253.0 1659.5,254.7 1661.3,256.5 1663.0,258.3 1664.7,260.2 1666.3,262.1 1667.9,264.0 1669.5,265.9 1671.0,267.9 1672.6,270.0 1674.0,272.0 1675.5,274.1 1676.9,276.2 1678.3,278.3 1679.6,280.4 1680.9,282.6 1682.2,284.8 1683.5,287.0 1684.7,289.2 1685.9,291.4 1687.0,293.6 1688.2,295.9 1689.3,298.1 1690.3,300.4 1691.4,302.7 1692.4,304.9 1693.4,307.2 1694.3,309.5 1695.3,311.8 1696.2,314.1 1697.0,316.4 1697.9,318.8 1698.7,321.1 1699.5,323.5 1700.3,325.8 1701.0,328.2 1701.7,330.6 1702.4,333.0 1703.1,335.4 1703.7,337.8 1704.3,340.2 1705.0,342.6 1705.6,345.1 1706.2,347.5 1706.7,349.9 1707.3,352.4 1707.9,354.8 1708.5,357.2 1709.0,359.7 1709.6,362.1 1710.2,364.6 1710.8,367.0 1711.4,369.4 1711.9,371.9 1712.5,374.3 1713.1,376.7 1713.7,379.2 1714.3,381.6 1714.9,384.0 1715.5,386.5 1716.1,388.9 1716.7,391.3 1717.3,393.8 1717.9,396.2 1718.5,398.6 1719.1,401.0 1719.7,403.5 1720.2,405.9 1720.8,408.3 1721.3,410.8 1721.9,413.2 1722.4,415.7 1722.9,418.1 1723.4,420.6 1723.9,423.0 1724.4,425.5 1724.9,427.9 1725.4,430.4 1725.9,432.8 1726.3,435.3 1726.8,437.7 1727.2,440.2 1727.7,442.6 1728.1,445.1 1728.6,447.6 1729.0,450.0 1729.4,452.5 1729.8,454.9 1730.2,457.4 1730.6,459.9 1731.0,462.3 1731.4,464.8 1731.8,467.3 1732.2,469.7 1732.6,472.2 1732.9,474.7 1733.3,477.2 1733.7,479.6 1734.0,482.1 1734.4,484.6 1734.7,487.1 1735.1,489.5 1735.4,492.0 1735.8,494.5 1736.1,497.0 1736.4,499.4 1736.7,501.9 1737.1,504.4 1737.4,506.9 1737.7,509.4 1738.0,511.8 1738.3,514.3 1738.6,516.8 1738.9,519.3 1739.2,521.8 1739.6,524.3 1739.8,526.7 1740.1,529.2 1740.4,531.7 1740.7,534.2 1741.0,536.7 1741.3,539.1 1741.6,541.6 1741.9,544.1 1742.2,546.6 1742.4,549.1 1742.7,551.6 1743.0,554.1 1743.3,556.5 1743.5,559.0 1743.8,561.5 1744.1,564.0 1744.3,566.5 1744.6,569.0 1744.9,571.5 1745.1,573.9 1745.4,576.4 1745.7,578.9 1745.9,581.4 1746.2,583.9 1746.4,586.4 1746.7,588.9 1747.0,591.3 1747.2,593.8 1747.5,596.3 1747.7,598.8 1748.0,601.3 1748.2,603.8 1748.5,606.3 1748.8,608.8 1749.0,611.2 1749.3,613.7 1749.5,616.2 1749.8,618.7 1750.0,621.2 1750.3,623.7 1750.5,626.2 1750.8,628.7 1751.0,631.1 1751.3,633.6 1751.6,636.1 1751.8,638.6 1752.1,641.1 1752.3,643.6 1752.6,646.1 1752.8,648.6 1753.1,651.0 1753.3,653.5 1753.6,656.0 1753.8,658.5 1754.1,661.0 1754.4,663.5 1754.6,666.0 1754.9,668.5 1755.1,670.9 1755.4,673.4 1755.6,675.9 1755.9,678.4 1756.1,680.9 1756.4,683.4 1756.6,685.9 1756.9,688.4 1757.2,690.8 1757.4,693.3 1757.7,695.8 1757.9,698.3 1758.2,700.8 1758.4,703.3 1758.7,705.8 1758.9,708.3 1759.2,710.7 1759.5,713.2 1759.7,715.7 1760.0,718.2 1760.2,720.7 1760.5,723.2 1760.7,725.7 1761.0,728.2 1761.2,730.6 1761.5,733.1 1761.7,735.6 1762.0,738.1 1762.2,740.6 1762.5,743.1 1762.8,745.6 1763.0,748.1 1763.3,750.5 1763.5,753.0 1763.8,755.5 1764.0,758.0 1764.3,760.5 1764.5,763.0 1764.8,765.5 1765.0,767.9 1765.3,770.4 1765.5,772.9 1765.8,775.4 1766.1,777.9 1766.3,780.4 1766.6,782.9 1766.8,785.4 1767.1,787.8 1767.3,790.3 1767.6,792.8 1767.8,795.3 1768.1,797.8 1768.3,800.3 1768.6,802.8 1768.8,805.3 1769.1,807.7 1769.3,810.2 1769.6,812.7 1769.8,815.2 1770.1,817.7 1770.3,820.2 1770.6,822.7 1770.8,825.2 1771.1,827.6 1771.3,830.1 1771.6,832.6 1771.8,835.1 1772.1,837.6 1772.3,840.1 1772.6,842.6 1772.8,845.1 1773.1,847.6 1773.3,850.0 1773.6,852.5 1773.8,855.0 1774.1,857.5 1774.3,860.0 1774.6,862.5 1774.8,865.0 1775.1,867.5 1775.3,869.9 1775.6,872.4 1775.8,874.9 1776.0,877.4 1776.3,879.9 1776.5,882.4 1776.8,884.9 1777.0,887.4 1777.3,889.8 1777.5,892.3 1777.8,894.8 1778.0,897.3 1778.3,899.8 1778.5,902.3 1778.7,904.8 1779.0,907.3 1779.2,909.8 1779.5,912.2 1779.7,914.7 1780.0,917.2 1780.2,919.7 1780.4,922.2 1780.7,924.7 1780.9,927.2 1781.2,929.7 1781.4,932.1 1781.7,934.6 1781.9,937.1 1782.1,939.6 1782.4,942.1 1782.6,944.6 1782.9,947.1 1783.1,949.6 1783.3,952.1 1783.6,954.5 1783.8,957.0 1784.0,959.5 1784.3,962.0 1784.5,964.5 1784.8,967.0 1785.0,969.5 1785.2,972.0 1785.5,974.5 1785.7,976.9 1785.9,979.4 1786.2,981.9 1786.4,984.4 1786.6,986.9 1786.9,989.4 1787.1,991.9 1787.3,994.4 1787.6,996.9 1787.8,999.3 1788.0,1001.8 1788.3,1004.3 1788.5,1006.8 1788.7,1009.3 1789.0,1011.8 1789.2,1014.3 1789.4,1016.8 1789.7,1019.3 1789.9,1021.8 1790.1,1024.2 1790.3,1026.7 1790.6,1029.2 1790.8,1031.7 1791.0,1034.2 1791.3,1036.7 1791.5,1039.2 1791.7,1041.7 1791.9,1044.2 1792.2,1046.7 1792.4,1049.1 1792.6,1051.6 1792.8,1054.1 1793.1,1056.6 1793.3,1059.1 1793.5,1061.6 1793.7,1064.1 1794.0,1066.6 1794.2,1069.1 1794.4,1071.6 1794.6,1074.0 1794.8,1076.5 1795.1,1079.0 1795.3,1081.5 1795.5,1084.0 1795.7,1086.5 1795.9,1089.0 1796.2,1091.5 1796.4,1094.0 1796.6,1096.5 1796.8,1098.9 1797.0,1101.4 1797.2,1103.9 1797.5,1106.4 1797.7,1108.9 1797.9,1111.4 1798.1,1113.9 1798.3,1116.4 1798.5,1118.9 1798.7,1121.4 1799.0,1123.9 1799.2,1126.4 1799.4,1128.8 1799.6,1131.3 1799.8,1133.8 1800.0,1136.3 1800.2,1138.8 1800.4,1141.3 1800.6,1143.8 1800.8,1146.3 1801.0,1148.8 1801.3,1151.3 1801.5,1153.8 1801.7,1156.3 1801.9,1158.7 1802.1,1161.2 1802.3,1163.7 1802.5,1166.2 1802.7,1168.7 1802.9,1171.2 1803.1,1173.7 1803.3,1176.2 1803.5,1178.7 1803.7,1181.2 1803.9,1183.7 1804.1,1186.2 1804.3,1188.7 1804.5,1191.1 1804.7,1193.6 1804.9,1196.1 1805.1,1198.6 1805.3,1201.1 1805.5,1203.6 1805.7,1206.1 1805.8,1208.1"/>
</defs>
<g class="c" stroke-width="4.0">
<g clip-path="url(#ax)">
<g stroke="#0000ff"><use href="#pb" x="-1.60" y="-1.25"/><use href="#pb" x="-1.60" y="0.00"/><use href="#pb" x="-1.60" y="1.25"/><use href="#pb" x="0.00" y="-1.25"/><use href="#pb" x="0.00" y="0.00"/><use href="#pb" x="0.00" y="1.25"/><use href="#pb" x="1.60" y="-1.25"/><use href="#pb" x="1.60" y="0.00"/><use href="#pb" x="1.60" y="1.25"/></g>
<g stroke="#00ff00"><use href="#pg" x="-1.60" y="-1.25"/><use href="#pg" x="-1.60" y="0.00"/><use href="#pg" x="-1.60" y="1.25"/><use href="#pg" x="0.00" y="-1.25"/><use href="#pg" x="0.00" y="0.00"/><use href="#pg" x="0.00" y="1.25"/><use href="#pg" x="1.60" y="-1.25"/><use href="#pg" x="1.60" y="0.00"/><use href="#pg" x="1.60" y="1.25"/></g>
<g stroke="#ff0000"><use href="#pr" x="-1.60" y="-1.25"/><use href="#pr" x="-1.60" y="0.00"/><use href="#pr" x="-1.60" y="1.25"/><use href="#pr" x="0.00" y="-1.25"/><use href="#pr" x="0.00" y="0.00"/><use href="#pr" x="0.00" y="1.25"/><use href="#pr" x="1.60" y="-1.25"/><use href="#pr" x="1.60" y="0.00"/><use href="#pr" x="1.60" y="1.25"/></g>
</g>
<g stroke="#ffff00" stroke-width="17.6" stroke-linecap="round"><path id="py" d="M191.4,1209.9 193.1,1208.1 194.8,1206.3 196.6,1204.5 198.3,1202.6 200.0,1200.8 201.8,1199.0 203.5,1197.2 205.2,1195.4 207.0,1193.7 208.7,1191.9 210.5,1190.1 212.2,1188.3 213.9,1186.5 215.7,1184.7 217.4,1182.9 219.2,1181.1 220.9,1179.3 222.7,1177.6 224.4,1175.8 226.2,1174.0 228.0,1172.2 229.7,1170.4 231.5,1168.7 233.2,1166.9 235.0,1165.1 236.8,1163.3 238.5,1161.6 240.3,1159.8 242.1,1158.0 243.8,1156.3 245.6,1154.5 247.4,1152.7 249.1,1151.0 250.9,1149.2 252.7,1147.5 254.5,1145.7 256.2,1143.9 258.0,1142.2 259.8,1140.4 261.6,1138.7 263.4,1136.9 265.2,1135.2 266.9,1133.4 268.7,1131.7 270.5,1129.9 272.3,1128.2 274.1,1126.5 275.9,1124.7 277.7,1123.0 279.5,1121.2 281.3,1119.5 283.1,1117.8 284.9,1116.0 286.7,1114.3 288.5,1112.6 290.3,1110.8 292.1,1109.1 293.9,1107.4 295.7,1105.6 297.5,1103.9 299.3,1102.2 301.1,1100.5 302.9,1098.7 304.8,1097.0 306.6,1095.3 308.4,1093.6 310.2,1091.9 312.0,1090.1 313.8,1088.4 315.7,1086.7 317.5,1085.0 319.3,1083.3 321.1,1081.6 322.9,1079.9 324.8,1078.1 326.6,1076.4 328.4,1074.7 330.2,1073.0 332.1,1071.3 333.9,1069.6 335.7,1067.9 337.6,1066.2 339.4,1064.5 341.2,1062.8 343.1,1061.1 344.9,1059.4 346.7,1057.7 348.6,1056.0 350.4,1054.3 352.3,1052.6 354.1,1050.9 355.9,1049.3 357.8,1047.6 359.6,1045.9 361.5,1044.2 363.3,1042.5 365.2,1040.8 367.0,1039.1 368.9,1037.4 370.7,1035.8 372.6,1034.1 374.4,1032.4 376.3,1030.7 378.1,1029.0 380.0,1027.4 381.8,1025.7 383.7,1024.0 385.5,1022.3 387.4,1020.7 389.3,1019.0 391.1,1017.3 393.0,1015.6 394.8,1014.0 396.7,1012.3 398.6,1010.6 400.4,1009.0 402.3,1007.3 404.1,1005.6 406.0,1004.0 407.9,1002.3 409.7,1000.6 411.6,999.0 413.5,997.3 415.3,995.6 417.2,994.0 419.1,992.3 421.0,990.7 422.8,989.0 424.7,987.3 426.6,985.7 428.5,984.0 430.3,982.4 432.2,980.7 434.1,979.1 436.0,977.4 437.8,975.8 439.7,974.1 441.6,972.5 443.5,970.8 445.3,969.2 447.2,967.5 449.1,965.9 451.0,964.2 452.9,962.6 454.8,960.9 456.6,959.3 458.5,957.6 460.4,956.0 462.3,954.3 464.2,952.7 466.1,951.1 467.9,949.4 469.8,947.8 471.7,946.1 473.6,944.5 475.5,942.9 477.4,941.2 479.3,939.6 481.2,938.0 483.1,936.3 485.0,934.7 486.8,933.0 488.7,931.4 490.6,929.8 492.5,928.2 494.4,926.5 496.3,924.9 498.2,923.3 500.1,921.6 502.0,920.0 503.9,918.4 505.8,916.7 507.7,915.1 509.6,913.5 511.5,911.9 513.4,910.2 515.3,908.6 517.2,907.0 519.1,905.4 521.0,903.7 522.9,902.1 524.8,900.5 526.7,898.9 528.6,897.2 530.5,895.6 532.4,894.0 534.3,892.4 536.2,890.7 538.1,889.1 540.0,887.5 541.9,885.9 543.8,884.3 545.7,882.7 547.6,881.0 549.5,879.4 551.4,877.8 553.3,876.2 555.2,874.6 557.1,873.0 559.0,871.3 561.0,869.7 562.9,868.1 564.8,866.5 566.7,864.9 568.6,863.3 570.5,861.6 572.4,860.0 574.3,858.4 576.2,856.8 578.1,855.2 580.0,853.6 582.0,852.0 583.9,850.4 585.8,848.8 587.7,847.1 589.6,845.5 591.5,843.9 593.4,842.3 595.3,840.7 597.3,839.1 599.2,837.5 601.1,835.9 603.0,834.3 604.9,832.7 606.8,831.1 608.7,829.4 610.6,827.8 612.6,826.2 614.5,824.6 616.4,823.0 618.3,821.4 620.2,819.8 622.1,818.2 624.1,816.6 626.0,815.0 627.9,813.4 629.8,811.8 631.7,810.2 633.6,808.6 635.6,807.0 637.5,805.3 639.4,803.7 641.3,802.1 643.2,800.5 645.1,798.9 647.1,797.3 649.0,795.7 650.9,794.1 652.8,792.5 654.7,790.9 656.6,789.3 658.6,787.7 660.5,786.1 662.4,784.5 664.3,782.9 666.2,781.3 668.1,779.7 670.1,778.1 672.0,776.5 673.9,774.9 675.8,773.3 677.7,771.6 679.6,770.0 681.6,768.4 683.5,766.8 685.4,765.2 687.3,763.6 689.2,762.0 691.1,760.4 693.0,758.7 694.9,757.1 696.8,755.5 698.7,753.9 700.6,752.3 702.5,750.7 704.4,749.0 706.3,747.4 708.3,745.8 710.2,744.2 712.1,742.5 714.0,740.9 715.9,739.3 717.8,737.7 719.7,736.0 721.6,734.4 723.5,732.8 725.4,731.2 727.3,729.6 729.2,727.9 731.1,726.3 733.0,724.7 734.9,723.1 736.8,721.5 738.7,719.9 740.6,718.3 742.5,716.6 744.5,715.0 746.4,713.4 748.3,711.8 750.2,710.2 752.1,708.6 754.1,707.0 756.0,705.4 757.9,703.9 759.8,702.3 761.8,700.7 763.7,699.1 765.6,697.5 767.6,696.0 769.5,694.4 771.5,692.8 773.4,691.3 775.4,689.7 777.3,688.1 779.3,686.6 781.3,685.1 783.2,683.5 785.2,682.0 787.2,680.4 789.2,678.9 791.1,677.4 793.1,675.9 795.1,674.4 797.1,672.8 799.1,671.3 801.1,669.8 803.1,668.3 805.1,666.8 807.1,665.3 809.1,663.8 811.1,662.4 813.1,660.9 815.1,659.4 817.1,657.9 819.2,656.4 821.2,655.0 823.2,653.5 825.2,652.0 827.3,650.6 829.3,649.1 831.3,647.7 833.4,646.2 835.4,644.7 837.4,643.3 839.5,641.8 841.5,640.4 843.6,639.0 845.6,637.5 847.7,636.1 849.7,634.6 851.8,633.2 853.8,631.8 855.9,630.3 857.9,628.9 860.0,627.5 862.0,626.0 864.1,624.6 866.1,623.2 868.2,621.8 870.2,620.3 872.3,618.9 874.4,617.5 876.4,616.1 878.5,614.7 880.5,613.2 882.6,611.8 884.7,610.4 886.7,609.0 888.8,607.6 890.9,606.2 892.9,604.8 895.0,603.3 897.0,601.9 899.1,600.5 901.2,599.1 903.2,597.7 905.3,596.3 907.4,594.8 909.4,593.4 911.5,592.0 913.5,590.6 915.6,589.2 917.7,587.8 919.7,586.4 921.8,585.0 923.9,583.6 925.9,582.1 928.0,580.7 930.1,579.3 932.1,577.9 934.2,576.5 936.3,575.1 938.3,573.7 940.4,572.3 942.5,570.9 944.6,569.5 946.6,568.2 948.7,566.8 950.8,565.4 952.9,564.0 954.9,562.6 957.0,561.2 959.1,559.9 961.2,558.5 963.3,557.1 965.4,555.7 967.5,554.4 969.6,553.0 971.7,551.7 973.8,550.3 975.9,549.0 978.0,547.6 980.1,546.3 982.2,544.9 984.3,543.6 986.4,542.3 988.5,540.9 990.6,539.6 992.7,538.3 994.9,537.0 997.0,535.7 999.1,534.4 1001.3,533.1 1003.4,531.8 1005.5,530.5 1007.7,529.2 1009.8,527.9 1012.0,526.6 1014.1,525.3 1016.3,524.1 1018.4,522.8 1020.6,521.6 1022.8,520.3 1024.9,519.1 1027.1,517.8 1029.3,516.6 1031.5,515.4 1033.7,514.2 1035.9,512.9 1038.1,511.7 1040.2,510.5 1042.5,509.3 1044.7,508.1 1046.9,507.0 1049.1,505.8 1051.3,504.6 1053.5,503.4 1055.7,502.3 1057.9,501.1 1060.2,499.9 1062.4,498.8 1064.6,497.6 1066.9,496.5 1069.1,495.4 1071.3,494.2 1073.6,493.1 1075.8,492.0 1078.0,490.8 1080.3,489.7 1082.5,488.6 1084.8,487.5 1087.0,486.4 1089.3,485.3 1091.5,484.2 1093.7,483.1 1096.0,482.0 1098.2,480.9 1100.5,479.8 1102.7,478.7 1105.0,477.6 1107.2,476.5 1109.5,475.5 1111.8,474.4 1114.0,473.3 1116.3,472.3 1118.5,471.2 1120.8,470.2 1123.1,469.1 1125.3,468.1 1127.6,467.1 1129.9,466.0 1132.1,465.0 1134.4,464.0 1136.7,463.0 1139.0,462.0 1141.3,461.0 1143.5,460.0 1145.8,459.0 1148.1,458.0 1150.4,457.0 1152.7,456.1 1155.0,455.1 1157.3,454.2 1159.6,453.2 1161.9,452.3 1164.3,451.3 1166.6,450.4 1168.9,449.5 1171.2,448.6 1173.5,447.7 1175.9,446.8 1178.2,445.9 1180.5,445.1 1182.9,444.2 1185.2,443.3 1187.6,442.5 1189.9,441.6 1192.3,440.8 1194.7,440.0 1197.0,439.2 1199.4,438.4 1201.8,437.6 1204.2,436.8 1206.5,436.0 1208.9,435.3 1211.3,434.5 1213.7,433.8 1216.1,433.0 1218.5,432.3 1221.0,431.6 1223.4,430.9 1225.8,430.3 1228.2,429.6 1230.7,429.0 1233.1,428.3 1235.5,427.7 1238.0,427.2 1240.4,426.6 1242.9,426.1 1245.4,425.6 1247.8,425.1 1250.3,424.7 1252.8,424.2 1255.2,423.8 1257.7,423.5 1260.2,423.2 1262.7,422.9 1265.2,422.6 1267.6,422.4 1270.1,422.2 1272.6,422.0 1275.1,421.9 1277.6,421.9 1280.1,421.8 1282.7,421.8 1285.2,421.9 1287.7,422.0 1290.2,422.2 1292.7,422.4 1295.2,422.6 1297.7,422.9 1300.1,423.3 1302.6,423.7 1305.1,424.2 1307.5,424.7 1309.9,425.3 1312.3,425.9 1314.7,426.7 1317.1,427.4 1319.5,428.3 1321.8,429.2 1324.1,430.2 1326.3,431.2 1328.6,432.3 1330.8,433.5 1333.0,434.7 1335.1,436.0 1337.2,437.3 1339.3,438.7 1341.3,440.2 1343.3,441.7 1345.2,443.2 1347.1,444.8 1349.0,446.5 1350.8,448.2 1352.5,450.0 1354.3,451.8 1355.9,453.6 1357.5,455.5 1359.1,457.4 1360.6,459.4 1362.1,461.4 1363.5,463.5 1364.8,465.5 1366.2,467.6 1367.4,469.8 1367.7,470.2"/><use href="#py" x="-1.5"/><use href="#py" x="1.5"/></g>
<path d="M1367.7,470.2 1368.9,472.4 1370.1,474.6 1371.3,476.8 1372.4,479.1 1373.5,481.3 1374.5,483.6 1375.6,485.9 1376.6,488.3 1377.5,490.6 1378.5,492.9 1379.4,495.3 1380.3,497.6 1381.2,500.0 1382.1,502.4 1382.9,504.7 1383.7,507.1 1384.5,509.5 1385.3,511.9 1386.1,514.2 1386.9,516.6 1387.6,519.0 1388.3,521.4 1389.1,523.8 1389.8,526.2 1390.4,528.6 1391.1,531.0 1391.8,533.4 1392.4,535.9 1393.1,538.3 1393.7,540.7 1394.3,543.1 1394.9,545.5 1395.5,548.0 1396.1,550.4 1396.7,552.8 1397.2,555.3 1397.8,557.7 1398.4,560.1 1398.9,562.6 1399.5,565.0 1400.0,567.4 1400.5,569.9 1401.0,572.3 1401.6,574.8 1402.1,577.2 1402.6,579.7 1403.1,582.1 1403.6,584.5 1404.1,587.0 1404.5,589.4 1405.0,591.9 1405.5,594.4 1406.0,596.8 1406.4,599.3 1406.9,601.7 1407.3,604.2 1407.8,606.6 1408.2,609.1 1408.7,611.5 1409.1,614.0 1409.5,616.5 1410.0,618.9 1410.4,621.4 1410.8,623.9 1411.2,626.3 1411.6,628.8 1412.0,631.2 1412.5,633.7 1412.9,636.2 1413.3,638.7 1413.6,641.1 1414.0,643.6 1414.4,646.1 1414.8,648.5 1415.2,651.0 1415.6,653.5 1416.0,655.9 1416.3,658.4 1416.7,660.9 1417.1,663.4 1417.4,665.8 1417.8,668.3 1418.2,670.8 1418.5,673.3 1418.9,675.7 1419.3,678.2 1419.6,680.7 1420.0,683.2 1420.3,685.6 1420.7,688.1 1421.0,690.6 1421.4,693.1 1421.7,695.5 1422.1,698.0 1422.4,700.5 1422.8,703.0 1423.1,705.4 1423.5,707.9 1423.8,710.4 1424.2,712.9 1424.5,715.3 1424.9,717.8 1425.2,720.3 1425.6,722.8 1425.9,725.2 1426.3,727.7 1426.6,730.2 1427.0,732.7 1427.3,735.2 1427.6,737.6 1428.0,740.1 1428.3,742.6 1428.7,745.1 1429.0,747.5 1429.3,750.0 1429.7,752.5 1430.0,755.0 1430.4,757.4 1430.7,759.9 1431.0,762.4 1431.4,764.9 1431.7,767.4 1432.0,769.8 1432.4,772.3 1432.7,774.8 1433.0,777.3 1433.4,779.7 1433.7,782.2 1434.0,784.7 1434.4,787.2 1434.7,789.7 1435.0,792.1 1435.4,794.6 1435.7,797.1 1436.0,799.6 1436.3,802.0 1436.7,804.5 1437.0,807.0 1437.3,809.5 1437.6,812.0 1438.0,814.4 1438.3,816.9 1438.6,819.4 1438.9,821.9 1439.3,824.4 1439.6,826.8 1439.9,829.3 1440.2,831.8 1440.5,834.3 1440.8,836.8 1441.2,839.2 1441.5,841.7 1441.8,844.2 1442.1,846.7 1442.4,849.2 1442.7,851.6 1443.0,854.1 1443.4,856.6 1443.7,859.1 1444.0,861.6 1444.3,864.0 1444.6,866.5 1444.9,869.0 1445.2,871.5 1445.5,874.0 1445.8,876.4 1446.1,878.9 1446.4,881.4 1446.7,883.9 1447.0,886.4 1447.3,888.8 1447.6,891.3 1447.9,893.8 1448.2,896.3 1448.5,898.8 1448.8,901.3 1449.1,903.7 1449.4,906.2 1449.7,908.7 1450.0,911.2 1450.3,913.7 1450.6,916.2 1450.9,918.6 1451.2,921.1 1451.4,923.6 1451.7,926.1 1452.0,928.6 1452.3,931.1 1452.6,933.5 1452.9,936.0 1453.2,938.5 1453.5,941.0 1453.7,943.5 1454.0,946.0 1454.3,948.4 1454.6,950.9 1454.9,953.4 1455.2,955.9 1455.4,958.4 1455.7,960.9 1456.0,963.3 1456.3,965.8 1456.6,968.3 1456.8,970.8 1457.1,973.3 1457.4,975.8 1457.7,978.2 1458.0,980.7 1458.2,983.2 1458.5,985.7 1458.8,988.2 1459.1,990.7 1459.3,993.2 1459.6,995.6 1459.9,998.1 1460.2,1000.6 1460.4,1003.1 1460.7,1005.6 1461.0,1008.1 1461.3,1010.6 1461.5,1013.0 1461.8,1015.5 1462.1,1018.0 1462.3,1020.5 1462.6,1023.0 1462.9,1025.5 1463.2,1028.0 1463.4,1030.4 1463.7,1032.9 1464.0,1035.4 1464.2,1037.9 1464.5,1040.4 1464.8,1042.9 1465.0,1045.3 1465.3,1047.8 1465.6,1050.3 1465.8,1052.8 1466.1,1055.3 1466.4,1057.8 1466.6,1060.3 1466.9,1062.7 1467.2,1065.2 1467.4,1067.7 1467.7,1070.2 1468.0,1072.7 1468.3,1075.2 1468.5,1077.7 1468.8,1080.1 1469.1,1082.6 1469.4,1085.1 1469.7,1087.6 1469.9,1090.1 1470.2,1092.6 1470.5,1095.0 1470.8,1097.5 1471.1,1100.0 1471.4,1102.5 1471.7,1105.0 1472.0,1107.5 1472.3,1109.9 1472.6,1112.4 1472.9,1114.9 1473.2,1117.4 1473.5,1119.9 1473.8,1122.3 1474.1,1124.8 1474.5,1127.3 1474.8,1129.8 1475.1,1132.2 1475.4,1134.7 1475.8,1137.2 1476.1,1139.7 1476.5,1142.2 1476.8,1144.6 1477.2,1147.1 1477.5,1149.6 1477.9,1152.0 1478.3,1154.5 1478.6,1157.0 1479.0,1159.5 1479.4,1161.9 1479.8,1164.4 1480.1,1166.9 1480.5,1169.3 1480.9,1171.8 1481.2,1174.3 1481.6,1176.8 1481.9,1179.2 1482.2,1181.7 1482.6,1184.2 1482.9,1186.7 1483.2,1189.2 1483.4,1191.6 1483.7,1194.1 1483.9,1196.6 1484.1,1199.1 1484.3,1201.6 1484.5,1204.1 1484.6,1206.6 1484.7,1209.1 1484.7,1209.6" stroke="#ffff00" stroke-width="17.6" stroke-linecap="round" stroke-dasharray="0 13.171"/>
<g clip-path="url(#ax)"><g stroke="#ff00ff"><use href="#pm" x="-1.60" y="-1.25"/><use href="#pm" x="-1.60" y="0.00"/><use href="#pm" x="-1.60" y="1.25"/><use href="#pm" x="0.00" y="-1.25"/><use href="#pm" x="0.00" y="0.00"/><use href="#pm" x="0.00" y="1.25"/><use href="#pm" x="1.60" y="-1.25"/><use href="#pm" x="1.60" y="0.00"/><use href="#pm" x="1.60" y="1.25"/></g></g>
</g>
<g>
<rect x="222.5" y="87.5" width="498" height="440" fill="#fff" stroke="#000" stroke-width="1" shape-rendering="crispEdges"/>
<g class="k"><rect x="222" y="87" width="8" height="4"/><rect x="720" y="87" width="8" height="4"/><rect x="720" y="527" width="8" height="4"/></g>
<rect x="248" y="133" width="131" height="6" fill="#0000ff"/>
<path d="M248,221H379" stroke="#00ff00" stroke-width="6" stroke-dasharray="20.8 5.2 7.8 5.2" fill="none"/>
<path d="M248,305.5H379" stroke="#ff0000" stroke-width="7" stroke-dasharray="20.9 5.1" fill="none"/>
<circle cx="315.6" cy="392" r="8.8" fill="#ffff00"/>
<rect x="248" y="472" width="131" height="6" fill="#ff00ff"/>
<text class="s" transform="translate(391.17,169.4) scale(1.2200,1)" font-size="43.8" letter-spacing="-0.837">S=200W/m<tspan x="210.85" y="-26.40" font-size="32.4">2</tspan></text>
<text class="s" transform="translate(391.17,253.4) scale(1.2200,1)" font-size="43.8" letter-spacing="-0.837">S=400W/m<tspan x="210.85" y="-26.40" font-size="32.4">2</tspan></text>
<text class="s" transform="translate(391.17,338.4) scale(1.2200,1)" font-size="43.8" letter-spacing="-0.837">S=600W/m<tspan x="210.85" y="-26.40" font-size="32.4">2</tspan></text>
<text class="s" transform="translate(391.17,423.4) scale(1.2200,1)" font-size="43.8" letter-spacing="-0.837">S=800W/m<tspan x="210.85" y="-26.40" font-size="32.4">2</tspan></text>
<clipPath id="c1"><path clip-rule="evenodd" d="M-20,-87.6H313.7V17.5H-20ZM55.58,-4.87H64.40V2H55.58ZM68.27,-4.87H76.82V2H68.27Z"/></clipPath>
<text class="s" transform="translate(391.17,508.4) scale(1.2200,1)" font-size="43.8" letter-spacing="-0.704" clip-path="url(#c1)">S=1000W/m<tspan x="234.46" y="-27.40" font-size="32.4">2</tspan></text>
</g>
<text class="s" transform="translate(117.44,68) scale(1.2550,1)" font-size="43.6" letter-spacing="-0.853">40</text>
<text class="s" transform="translate(117.72,211) scale(1.2550,1)" font-size="43.6" letter-spacing="-0.941">35</text>
<text class="s" transform="translate(117.73,358) scale(1.2550,1)" font-size="43.6" letter-spacing="-1.080">30</text>
<text class="s" transform="translate(117.89,501) scale(1.2550,1)" font-size="43.6" letter-spacing="-1.080">25</text>
<text class="s" transform="translate(117.73,648) scale(1.2550,1)" font-size="43.6" letter-spacing="-1.080">20</text>
<clipPath id="c2"><path clip-rule="evenodd" d="M-20,-87.2H125.9V17.4H-20ZM2.18,-4.86H10.97V2H2.18ZM14.82,-4.86H23.33V2H14.82Z"/></clipPath>
<text class="s" transform="translate(117.54,791) scale(1.2550,1)" font-size="43.6" letter-spacing="-0.798" clip-path="url(#c2)">15</text>
<clipPath id="c3"><path clip-rule="evenodd" d="M-20,-87.2H125.9V17.4H-20ZM2.18,-4.86H10.97V2H2.18ZM14.82,-4.86H23.33V2H14.82Z"/></clipPath>
<text class="s" transform="translate(117.44,938) scale(1.2550,1)" font-size="43.6" letter-spacing="-0.846" clip-path="url(#c3)">10</text>
<text class="s" transform="translate(146.97,1081) scale(1.2550,1)" font-size="43.6" letter-spacing="-1.080">5</text>
<text class="s" transform="translate(146.81,1228) scale(1.2550,1)" font-size="43.6" letter-spacing="-1.080">0</text>
<text class="s" transform="translate(176.38,1267) scale(1.2550,1)" font-size="43.6">0</text>
<text class="s" transform="translate(433.36,1267) scale(1.2550,1)" font-size="43.6" letter-spacing="-1.446">0.5</text>
<clipPath id="c4"><path clip-rule="evenodd" d="M-20,-87.2H102.1V17.4H-20ZM2.18,-4.86H10.97V2H2.18ZM14.82,-4.86H23.33V2H14.82Z"/></clipPath>
<text class="s" transform="translate(737.17,1267) scale(1.2550,1)" font-size="43.6" clip-path="url(#c4)">1</text>
<clipPath id="c5"><path clip-rule="evenodd" d="M-20,-87.2H136.4V17.4H-20ZM2.18,-4.86H10.97V2H2.18ZM14.82,-4.86H23.33V2H14.82Z"/></clipPath>
<text class="s" transform="translate(993.44,1267) scale(1.2550,1)" font-size="43.6" letter-spacing="-1.197" clip-path="url(#c5)">1.5</text>
<text class="s" transform="translate(1295.33,1267) scale(1.2550,1)" font-size="43.6">2</text>
<text class="s" transform="translate(1552.85,1267) scale(1.2550,1)" font-size="43.6" letter-spacing="-0.962">2.5</text>
<text class="s" transform="translate(1860.44,1267) scale(1.2550,1)" font-size="43.6">3</text>
<text class="t" transform="translate(870.67,1345.3) scale(1.2000,1)" font-size="61.5" letter-spacing="-1.298">Current(A)</text>
<text class="t" transform="translate(78.5,780.04) rotate(-90) scale(1,1.203)" font-size="60.4" letter-spacing="0.004">Power(W)</text>
</svg></body></html>
